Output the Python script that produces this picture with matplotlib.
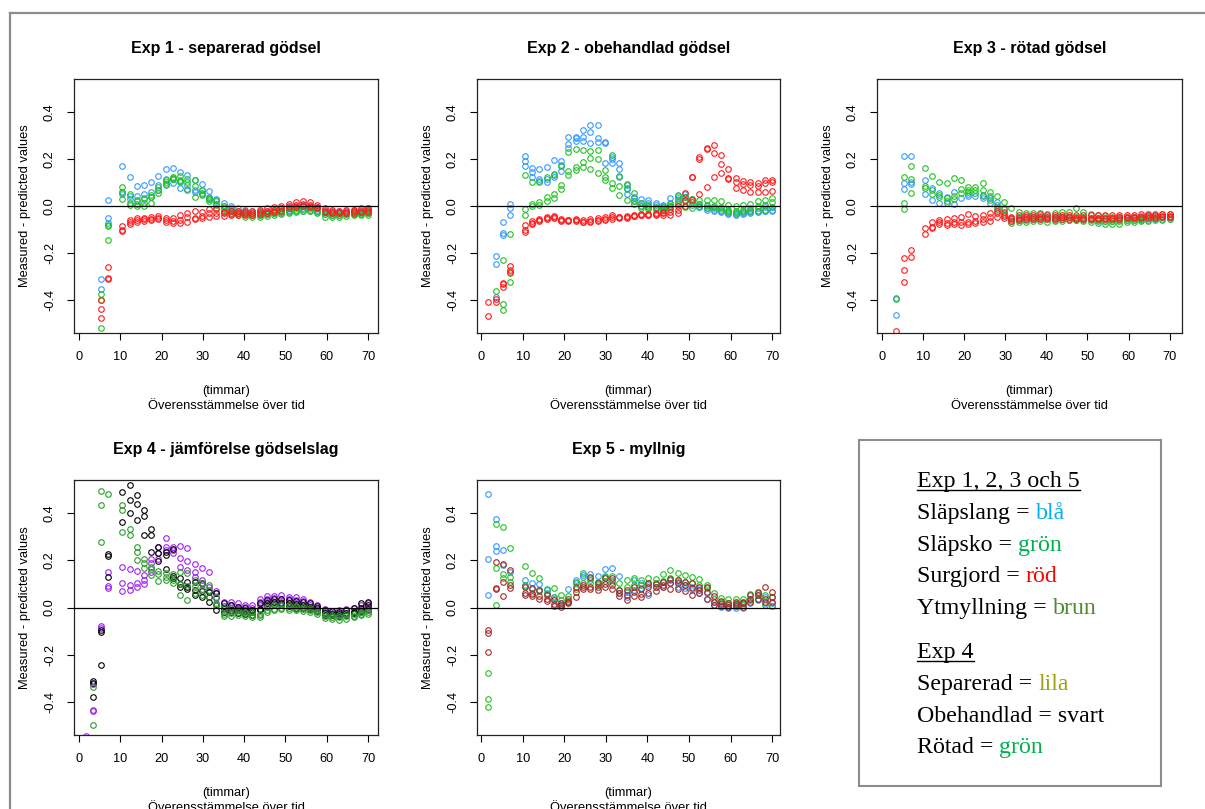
import numpy as np
import matplotlib
matplotlib.use("Agg")
import matplotlib.pyplot as plt
from matplotlib.lines import Line2D
from matplotlib.patches import Rectangle

plt.rcParams['font.family'] = ['Liberation Sans', 'DejaVu Sans']

nan = np.nan

# time points (hours)
timmar = [1.75, 3.5, 5.25, 7.0, 10.5, 12.25, 14.0, 15.75, 17.5, 19.25,
          21.0, 22.75, 24.5, 26.25, 28.0, 29.75, 31.5, 33.25, 35.0, 36.75,
          38.5, 40.25, 42.0, 43.75, 45.5, 47.25, 49.0, 50.75, 52.5, 54.25,
          56.0, 57.75, 59.5, 61.25, 63.0, 64.75, 66.5, 68.25, 70.0]

# ---- Exp 1 ----
e1_bla = [
    [nan, nan, -0.31, 0.026, 0.169, 0.122, 0.085, 0.091, 0.102, 0.129,
     0.159, 0.163, 0.146, 0.132, 0.11, 0.092, 0.065, 0.03, 0.014, 0.0,
     -0.01, -0.015, -0.02, -0.02, -0.02, -0.015, -0.01, -0.005, 0.0, 0.005,
     0.0, -0.005, -0.015, -0.02, -0.02, -0.02, -0.015, -0.015, -0.01],
    [nan, nan, -0.355, -0.05, 0.061, 0.043, 0.043, 0.051, 0.061, 0.089,
     0.113, 0.096, 0.075, 0.09, 0.068, 0.068, 0.04, 0.02, 0.0, -0.01,
     -0.02, -0.025, -0.03, -0.03, -0.028, -0.025, -0.02, -0.015, -0.01, -0.01,
     -0.01, -0.015, -0.025, -0.03, -0.03, -0.028, -0.025, -0.025, -0.02],
    [nan, nan, nan, -0.074, 0.05, 0.03, 0.02, 0.03, 0.04, 0.07,
     0.09, 0.12, 0.11, 0.07, 0.06, 0.05, 0.03, 0.01, -0.01, -0.02,
     -0.03, -0.035, -0.04, -0.038, -0.035, -0.03, -0.028, -0.025, -0.02, -0.02,
     -0.022, -0.025, -0.035, -0.04, -0.038, -0.035, -0.032, -0.03, -0.03],
]
e1_gron = [
    [nan, nan, -0.376, -0.08, 0.081, 0.051, 0.026, 0.033, 0.045, 0.082,
     0.11, 0.122, 0.128, 0.113, 0.109, 0.068, 0.035, 0.025, 0.0, -0.017,
     -0.02, -0.025, -0.03, -0.03, -0.025, -0.02, -0.015, -0.01, -0.005, -0.002,
     -0.005, -0.01, -0.025, -0.03, -0.03, -0.028, -0.025, -0.025, -0.022],
    [nan, nan, -0.40, -0.085, 0.06, 0.011, 0.007, 0.011, 0.037, 0.068,
     0.094, 0.113, 0.108, 0.10, 0.085, 0.055, 0.03, 0.005, -0.013, -0.02,
     -0.03, -0.035, -0.04, -0.038, -0.035, -0.03, -0.025, -0.02, -0.015, -0.012,
     -0.015, -0.02, -0.035, -0.04, -0.038, -0.035, -0.033, -0.032, -0.03],
    [nan, nan, -0.52, -0.145, 0.031, 0.004, 0.0, 0.0, 0.014, 0.057,
     0.10, 0.115, 0.10, 0.071, 0.037, 0.047, 0.023, -0.01, -0.02, -0.034,
     -0.04, -0.045, -0.048, -0.045, -0.042, -0.04, -0.035, -0.03, -0.025, -0.02,
     -0.022, -0.028, -0.045, -0.048, -0.045, -0.042, -0.04, -0.04, -0.038],
]
e1_rod = [
    [nan, nan, -0.40, -0.258, -0.085, -0.06, -0.051, -0.05, -0.045, -0.041,
     -0.05, -0.05, -0.04, -0.028, -0.02, -0.024, -0.013, -0.013, -0.024, -0.02,
     -0.02, -0.02, -0.02, -0.015, -0.01, -0.005, 0.0, 0.01, 0.015, 0.02,
     0.015, 0.005, -0.01, -0.015, -0.02, -0.015, -0.015, -0.01, -0.01],
    [nan, nan, -0.44, -0.308, -0.10, -0.07, -0.06, -0.057, -0.054, -0.05,
     -0.06, -0.065, -0.06, -0.045, -0.05, -0.043, -0.03, -0.028, -0.03, -0.028,
     -0.03, -0.03, -0.028, -0.025, -0.02, -0.015, -0.01, 0.0, 0.005, 0.01,
     0.005, -0.005, -0.02, -0.025, -0.025, -0.025, -0.02, -0.02, -0.015],
    [nan, nan, -0.477, -0.31, -0.108, -0.078, -0.067, -0.064, -0.06, -0.057,
     -0.068, -0.072, -0.074, -0.068, -0.055, -0.052, -0.045, -0.043, -0.043, -0.038,
     -0.04, -0.04, -0.038, -0.035, -0.03, -0.025, -0.02, -0.01, -0.005, 0.0,
     -0.005, -0.01, -0.025, -0.03, -0.03, -0.03, -0.03, -0.025, -0.025],
]

# ---- Exp 2 ----
e2_bla = [
    [nan, -0.213, -0.068, 0.009, 0.211, 0.16, 0.157, 0.167, 0.196, 0.19,
     0.295, 0.295, 0.323, 0.346, 0.346, 0.271, 0.21, 0.182, 0.089, 0.04,
     0.03, 0.026, 0.014, 0.004, 0.033, 0.047, 0.051, 0.03, 0.01, 0.0,
     -0.005, -0.01, -0.02, -0.025, -0.02, -0.015, -0.01, -0.005, -0.005],
    [nan, -0.247, -0.114, -0.01, 0.191, 0.145, 0.116, 0.116, 0.122, 0.175,
     0.262, 0.288, 0.295, 0.313, 0.288, 0.266, 0.199, 0.157, 0.075, 0.033,
     0.011, 0.011, 0.004, -0.006, 0.014, 0.033, 0.04, 0.015, 0.0, -0.01,
     -0.015, -0.02, -0.03, -0.035, -0.03, -0.025, -0.02, -0.02, -0.015],
    [nan, -0.386, -0.122, -0.04, 0.17, 0.125, 0.108, 0.102, 0.13, 0.15,
     0.248, 0.277, 0.277, 0.267, 0.271, 0.184, 0.182, 0.122, 0.05, 0.02,
     0.0, -0.005, -0.01, -0.015, 0.0, 0.015, 0.02, 0.005, -0.005, -0.015,
     -0.02, -0.025, -0.035, -0.04, -0.035, -0.03, -0.025, -0.022, -0.02],
]
e2_gron = [
    [nan, -0.362, -0.23, -0.12, 0.13, 0.10, 0.10, 0.125, 0.135, 0.172,
     0.231, 0.241, 0.238, 0.234, 0.238, 0.153, 0.217, 0.129, 0.094, 0.057,
     0.014, 0.004, -0.003, 0.0, 0.01, 0.043, 0.04, 0.03, 0.025, 0.025,
     0.025, 0.02, 0.005, 0.0, 0.005, 0.01, 0.02, 0.025, 0.035],
    [nan, nan, -0.418, -0.287, -0.014, 0.009, 0.017, 0.04, 0.051, 0.089,
     0.149, 0.165, 0.189, 0.206, 0.20, 0.125, 0.096, 0.087, 0.071, 0.02,
     0.0, -0.005, -0.008, -0.01, 0.0, 0.025, 0.02, 0.015, 0.01, 0.005,
     0.0, -0.005, -0.015, -0.02, -0.015, -0.01, 0.0, 0.005, 0.015],
    [nan, nan, -0.443, -0.325, -0.038, 0.0, 0.004, 0.021, 0.035, 0.071,
     0.13, 0.153, 0.165, 0.156, 0.142, 0.11, 0.078, 0.048, 0.026, 0.007,
     -0.01, -0.011, -0.012, -0.017, -0.006, 0.01, -0.005, -0.01, -0.005, -0.01,
     -0.01, -0.015, -0.025, -0.03, -0.025, -0.02, -0.02, -0.015, -0.005],
]
e2_rod = [
    [-0.407, -0.397, -0.326, -0.254, -0.082, -0.065, -0.057, -0.048, -0.043, -0.057,
     -0.06, -0.057, -0.06, -0.057, -0.052, -0.048, -0.038, -0.045, -0.048, -0.041,
     -0.038, -0.037, -0.034, -0.031, -0.014, 0.001, 0.054, 0.125, 0.21, 0.248,
     0.26, 0.217, 0.159, 0.121, 0.108, 0.104, 0.096, 0.111, 0.111],
    [-0.468, -0.407, -0.333, -0.27, -0.10, -0.071, -0.06, -0.052, -0.048, -0.06,
     -0.058, -0.06, -0.066, -0.068, -0.062, -0.054, -0.045, -0.051, -0.044, -0.038,
     -0.036, -0.034, -0.03, -0.026, -0.025, -0.017, 0.026, 0.122, 0.199, 0.244,
     0.227, 0.179, 0.118, 0.104, 0.092, 0.089, 0.085, 0.096, 0.104],
    [nan, nan, -0.343, -0.28, -0.11, -0.075, -0.063, -0.056, -0.052, -0.062,
     -0.062, -0.064, -0.07, -0.062, -0.058, -0.058, -0.057, -0.048, -0.05, -0.044,
     -0.04, -0.04, -0.037, -0.037, -0.038, -0.028, 0.0, 0.026, 0.051, 0.079,
     0.125, 0.139, 0.114, 0.078, 0.068, 0.061, 0.06, 0.061, 0.062],
]

# ---- Exp 3 ----
e3_bla = [
    [nan, -0.393, 0.213, 0.214, 0.111, 0.078, 0.057, 0.04, 0.061, 0.033,
     0.051, 0.043, 0.047, 0.033, 0.016, -0.01, -0.05, -0.045, -0.045, -0.045,
     -0.044, -0.045, -0.046, -0.045, -0.046, -0.048, -0.05, -0.05, -0.05, -0.05,
     -0.052, -0.05, -0.05, -0.05, -0.048, -0.048, -0.046, -0.046, -0.045],
    [nan, -0.465, 0.096, 0.104, 0.051, 0.026, 0.011, 0.011, 0.007, nan,
     0.043, nan, 0.033, 0.011, -0.003, -0.038, -0.064, -0.06, -0.058, -0.057,
     -0.056, -0.057, -0.058, -0.057, -0.058, -0.06, -0.06, -0.06, -0.062, -0.062,
     -0.062, -0.06, -0.06, -0.06, -0.058, -0.058, -0.056, -0.056, -0.055],
    [nan, nan, 0.071, 0.094] + [nan] * 35,
]
e3_gron = [
    [nan, -0.396, 0.122, 0.169, 0.16, 0.128, 0.104, 0.096, 0.118, 0.11,
     0.082, 0.079, 0.099, 0.061, 0.044, 0.018, -0.01, -0.025, -0.03, -0.03,
     -0.03, -0.032, -0.03, -0.025, -0.025, -0.01, -0.025, -0.035, -0.04, -0.042,
     -0.045, -0.045, -0.045, -0.045, -0.042, -0.04, -0.038, -0.036, -0.035],
    [nan, nan, 0.014, 0.113, 0.085, 0.068, 0.047, 0.033, 0.043, 0.071,
     0.068, 0.07, 0.068, 0.043, 0.004, -0.014, -0.05, -0.055, -0.055, -0.05,
     -0.05, -0.052, -0.05, -0.048, -0.045, -0.045, -0.048, -0.055, -0.06, -0.062,
     -0.065, -0.062, -0.06, -0.058, -0.055, -0.052, -0.05, -0.048, -0.046],
    [nan, nan, -0.013, 0.057, 0.078, 0.051, 0.037, 0.021, 0.03, 0.054,
     0.06, 0.054, 0.043, 0.026, -0.011, -0.034, -0.071, -0.07, -0.068, -0.065,
     -0.065, -0.066, -0.064, -0.062, -0.06, -0.06, -0.062, -0.068, -0.072, -0.075,
     -0.078, -0.075, -0.07, -0.066, -0.064, -0.062, -0.06, -0.058, -0.055],
]
e3_rod = [
    [nan, -0.532, -0.22, -0.187, -0.092, -0.07, -0.06, -0.057, -0.052, -0.045,
     -0.035, -0.043, -0.04, -0.028, -0.02, -0.024, -0.045, -0.04, -0.038, -0.037,
     -0.036, -0.037, -0.038, -0.038, -0.04, -0.04, -0.04, -0.04, -0.04, -0.04,
     -0.04, -0.04, -0.038, -0.037, -0.036, -0.035, -0.034, -0.033, -0.033],
    [nan, nan, -0.272, -0.216, -0.121, -0.088, -0.078, -0.071, -0.078, -0.081,
     -0.066, -0.062, -0.057, -0.045, -0.031, -0.043, -0.057, -0.05, -0.048, -0.047,
     -0.046, -0.046, -0.047, -0.048, -0.048, -0.05, -0.05, -0.05, -0.05, -0.05,
     -0.05, -0.048, -0.047, -0.046, -0.045, -0.044, -0.043, -0.042, -0.042],
    [nan, nan, -0.322, nan, nan, -0.092, -0.07, -0.08, -0.07, -0.07,
     -0.076, -0.074, -0.066, -0.064, -0.048, -0.052, -0.064, -0.06, -0.056, -0.055,
     -0.054, -0.054, -0.055, -0.055, -0.056, -0.056, -0.056, -0.056, -0.056, -0.056,
     -0.055, -0.054, -0.053, -0.052, -0.05, -0.05, -0.049, -0.048, -0.048],
]

# ---- Exp 4 ----
e4_separerad = [
    [-0.545, -0.323, -0.078, 0.152, 0.17, 0.162, 0.156, 0.138, 0.204, 0.255,
     0.295, 0.258, 0.261, 0.251, 0.184, 0.166, 0.152, 0.071, 0.024, 0.024,
     0.017, 0.01, 0.01, 0.038, 0.048, 0.048, 0.051, 0.045, 0.043, 0.038,
     0.024, 0.01, -0.008, -0.014, -0.011, -0.008, -0.004, 0.01, 0.02],
    [nan, -0.434, -0.085, 0.091, 0.105, 0.095, 0.102, 0.116, 0.187, 0.23,
     0.258, 0.244, 0.209, 0.199, 0.152, 0.116, 0.088, 0.06, 0.006, 0.01,
     0.003, 0.003, 0.0, 0.024, 0.038, 0.041, 0.038, 0.034, 0.031, 0.028,
     0.01, 0.0, -0.018, -0.023, -0.025, -0.023, -0.018, -0.011, 0.003],
    [nan, -0.437, nan, 0.081, 0.071, 0.074, 0.088, 0.1, 0.152, 0.204,
     0.244, 0.23, 0.17, 0.16, 0.13, 0.1, 0.07, 0.04, -0.005, 0.0,
     -0.005, -0.01, -0.01, 0.01, 0.02, 0.025, 0.025, 0.02, 0.015, 0.01,
     0.0, -0.01, -0.025, -0.03, -0.03, -0.028, -0.025, -0.02, -0.01],
]
e4_obehandlad = [
    [nan, -0.313, -0.094, 0.226, 0.489, 0.52, 0.475, 0.414, 0.332, 0.255,
     0.237, 0.248, 0.123, 0.109, 0.109, 0.102, 0.067, 0.062, 0.017, 0.01,
     0.003, -0.004, -0.011, 0.017, 0.031, 0.038, 0.038, 0.031, 0.028, 0.024,
     0.017, 0.006, -0.011, -0.014, -0.018, -0.011, -0.004, 0.017, 0.024],
    [nan, -0.319, -0.104, 0.22, 0.363, 0.454, 0.438, 0.386, 0.308, 0.23,
     0.223, 0.133, 0.1, 0.088, 0.074, 0.071, 0.045, 0.01, 0.0, -0.011,
     -0.01, -0.015, -0.02, -0.005, 0.017, 0.024, 0.021, 0.017, 0.013, 0.01,
     0.003, -0.004, -0.023, -0.026, -0.028, -0.023, -0.018, -0.004, 0.01],
    [nan, -0.377, -0.243, 0.13, nan, 0.40, 0.369, 0.306, 0.234, 0.199,
     0.162, 0.123, 0.088, 0.077, 0.052, 0.043, 0.024, -0.011, -0.018, -0.018,
     -0.023, -0.028, -0.033, -0.011, 0.005, 0.01, 0.01, 0.005, 0.0, -0.003,
     -0.008, -0.015, -0.03, -0.033, -0.035, -0.03, -0.025, -0.015, -0.005],
]
e4_rotad = [
    [nan, -0.335, 0.494, 0.482, 0.435, 0.332, 0.255, 0.204, 0.173, 0.156,
     0.148, 0.14, 0.152, 0.145, 0.116, 0.102, 0.095, 0.045, -0.004, -0.004,
     -0.011, -0.018, -0.018, -0.026, 0.003, 0.01, 0.01, 0.01, 0.006, 0.003,
     -0.004, -0.014, -0.026, -0.033, -0.033, -0.028, -0.026, -0.018, -0.011],
    [nan, -0.498, 0.435, nan, 0.414, 0.306, 0.233, 0.187, 0.163, 0.142,
     0.13, 0.116, 0.1, 0.09, 0.091, 0.078, 0.074, 0.017, -0.026, -0.023,
     -0.02, -0.025, -0.03, -0.03, -0.01, -0.005, -0.002, -0.004, -0.005, -0.008,
     -0.01, -0.02, -0.035, -0.04, -0.04, -0.038, -0.034, -0.026, -0.02],
    [nan, nan, 0.279, nan, 0.32, nan, 0.201, 0.166, 0.138, 0.112,
     0.116, 0.105, 0.052, 0.031, 0.06, 0.052, 0.045, 0.01, -0.037, -0.037,
     -0.033, -0.037, -0.04, -0.04, -0.018, -0.011, -0.008, -0.011, -0.011, -0.014,
     -0.018, -0.028, -0.043, -0.047, -0.051, -0.047, -0.04, -0.033, -0.026],
]

# ---- Exp 5 ----
e5_bla = [
    [0.482, 0.376, 0.244, 0.152, 0.116, 0.105, 0.099, 0.074, 0.045, 0.017,
     0.078, 0.116, 0.138, 0.14, 0.133, 0.162, 0.169, 0.133, 0.067, 0.116,
     0.102, 0.095, 0.102, 0.109, 0.116, 0.109, 0.095, 0.088, 0.081, 0.06,
     0.024, 0.017, 0.003, 0.01, 0.01, 0.038, 0.052, 0.045, 0.017],
    [0.206, 0.261, 0.18, nan, 0.09, 0.08, 0.074, 0.06, 0.035, 0.01,
     0.024, 0.102, 0.128, 0.116, 0.102, 0.128, 0.116, 0.06, 0.045, 0.074,
     0.081, 0.052, 0.088, 0.088, 0.102, 0.088, 0.081, 0.074, 0.06, 0.038,
     0.01, 0.003, 0.0, 0.0, 0.0, 0.017, 0.031, 0.017, 0.006],
    [0.055, 0.24] + [nan] * 37,
]
e5_gron = [
    [-0.277, 0.355, 0.339, 0.254, 0.177, 0.145, 0.123, 0.077, 0.081, 0.052,
     0.048, 0.108, 0.145, 0.123, 0.109, 0.133, 0.133, 0.102, 0.116, 0.123,
     0.116, 0.126, 0.122, 0.142, 0.159, 0.145, 0.138, 0.13, 0.119, 0.095,
     0.06, 0.041, 0.038, 0.038, 0.038, 0.057, 0.062, 0.052, 0.045],
    [-0.387, 0.166, 0.14, 0.128, 0.095, 0.062, 0.071, 0.057, 0.045, 0.031,
     0.028, 0.077, 0.102, 0.102, 0.095, 0.113, 0.108, 0.074, 0.088, 0.095,
     0.095, 0.102, 0.102, 0.113, 0.123, 0.116, 0.109, 0.102, 0.095, 0.081,
     0.038, 0.024, 0.017, 0.02, 0.017, 0.031, 0.038, 0.01, 0.006],
    [-0.42, 0.01, 0.123, 0.109] + [nan] * 35,
]
e5_brun = [
    [-0.096, 0.194, 0.184, 0.159, 0.088, 0.081, 0.074, 0.052, 0.031, 0.02,
     0.038, 0.088, 0.095, 0.128, 0.102, 0.123, 0.123, 0.074, 0.074, 0.085,
     0.077, 0.102, 0.099, 0.109, 0.119, 0.116, 0.109, 0.102, 0.088, 0.085,
     0.048, 0.028, 0.02, 0.024, 0.024, 0.052, 0.067, 0.085, 0.067],
    [-0.108, 0.081, 0.108, 0.095, 0.06, 0.057, 0.048, 0.038, 0.014, 0.003,
     0.024, 0.067, 0.085, 0.085, 0.088, 0.099, 0.095, 0.06, 0.052, 0.067,
     0.057, 0.088, 0.085, 0.095, 0.102, 0.102, 0.095, 0.081, 0.074, 0.067,
     0.024, 0.014, 0.01, 0.014, 0.017, 0.038, 0.052, 0.038, 0.045],
    [-0.189, 0.077, 0.05, 0.081, 0.052, 0.048, 0.038, 0.028, 0.006, 0.01,
     0.017, 0.045, 0.079, 0.078, 0.074, 0.088, 0.078, 0.048, 0.031, 0.048,
     0.043, 0.06, 0.071, 0.085, 0.08, 0.08, 0.071, 0.052, 0.06, 0.038,
     0.01, 0.006, 0.003, 0.006, 0.003, 0.024, 0.034, 0.024, 0.024],
]

titles = ["Exp 1 - separerad gödsel", "Exp 2 - obehandlad gödsel", "Exp 3 - rötad gödsel",
          "Exp 4 - jämförelse gödselslag", "Exp 5 - myllnig"]
xticks = [0, 10, 20, 30, 40, 50, 60, 70]
yticks = [-0.4, -0.2, 0.0, 0.2, 0.4]
ytick_labels = ["-0.4", "-0.2", "0.0", "0.2", "0.4"]

BLUE = "#3399ff"
GREEN = "#22c222"
RED = "#ff1a1a"

W, H = 1205, 809
fig = plt.figure(figsize=(W / 100, H / 100), dpi=100)


def add_panel(px_left, px_top, px_right, px_bottom, title, series, xlim):
    rect = [px_left / W, 1 - px_bottom / H, (px_right - px_left) / W, (px_bottom - px_top) / H]
    ax = fig.add_axes(rect)
    for reps, col in series:
        for rep in reps:
            ax.plot(timmar, rep, ls='none', marker='o', ms=4.0, mfc='none',
                    mec=col, mew=0.8)
    ax.axhline(0, color='black', lw=0.9, zorder=3)
    ax.set_xlim(*xlim)
    ax.set_ylim(-0.54, 0.54)
    ax.set_xticks(xticks)
    ax.set_yticks(yticks)
    ax.set_yticklabels(ytick_labels, rotation=90, va='center')
    ax.tick_params(direction='out', length=5, width=0.8, labelsize=9.2, pad=8)
    for s in ax.spines.values():
        s.set_linewidth(0.9)
        s.set_color('#222222')
    ax.set_xlabel("(timmar)\nÖverensstämmelse över tid", fontsize=9.3, labelpad=16,
                  linespacing=1.3)
    ax.set_ylabel("Measured - predicted values", fontsize=9.3, labelpad=9)
    ax.set_title(title, fontweight='bold', fontsize=11.5, pad=19)
    return ax


add_panel(74, 79, 378, 333, titles[0],
          [(e1_bla, BLUE), (e1_gron, GREEN), (e1_rod, RED)], (-1.2, 72.4))
add_panel(477, 79, 780, 333, titles[1],
          [(e2_bla, BLUE), (e2_gron, GREEN), (e2_rod, RED)], (-1.0, 71.9))
add_panel(877, 79, 1182, 333, titles[2],
          [(e3_bla, BLUE), (e3_gron, GREEN), (e3_rod, RED)], (-1.2, 73.0))
add_panel(74, 480, 378, 735, titles[3],
          [(e4_separerad, "#a020f0"), (e4_obehandlad, "black"), (e4_rotad, "#2a9d2a")],
          (-1.2, 72.4))
add_panel(477, 480, 780, 735, titles[4],
          [(e5_bla, BLUE), (e5_gron, GREEN), (e5_brun, "#a52a2a")], (-1.0, 71.9))

# outer frame (gray)
fig.add_artist(Line2D([10 / W, 1.0], [1 - 13 / H, 1 - 13 / H], transform=fig.transFigure,
                      color='#8c8c8c', lw=1.6))
fig.add_artist(Line2D([10 / W, 10 / W], [1 - 13 / H, 0.0], transform=fig.transFigure,
                      color='#8c8c8c', lw=1.6))

# legend box
fig.add_artist(Rectangle((859 / W, 1 - 786 / H), 302 / W, 346 / H, transform=fig.transFigure,
                         fill=False, edgecolor='#8c8c8c', lw=1.5))

legend_rows = [
    ("Exp 1, 2, 3 och 5", None, None),
    ("Släpslang =", "blå", "#00b0f0"),
    ("Släpsko =", "grön", "#00b050"),
    ("Surgjord =", "röd", "#ff0000"),
    ("Ytmyllning =", "brun", "#4e8a2b"),
    ("Exp 4", None, None),
    ("Separerad =", "lila", "#a0a010"),
    ("Obehandlad = svart", None, None),
    ("Rötad =", "grön", "#00b050"),
]
legend_baselines = [487, 519, 551, 582, 614, 658, 690, 722, 753]
headers = {0, 5}

renderer = fig.canvas.get_renderer()
lx = 917
lfont = dict(family=['Liberation Serif', 'DejaVu Serif'], size=17.2)
probe1 = fig.text(0, 0, "a a", **lfont)
probe2 = fig.text(0, 0, "aa", **lfont)
space_w = probe1.get_window_extent(renderer).width - probe2.get_window_extent(renderer).width
probe1.remove()
probe2.remove()

for i, (row, word, col) in enumerate(legend_rows):
    yb = legend_baselines[i]
    t = fig.text(lx / W, 1 - yb / H, row, va='baseline', ha='left', color='black', **lfont)
    w = t.get_window_extent(renderer).width
    if word is not None:
        fig.text((lx + w + space_w) / W, 1 - yb / H, word, va='baseline', ha='left',
                 color=col, **lfont)
    if i in headers:
        fig.add_artist(Line2D([lx / W, (lx + w) / W], [1 - (yb + 3) / H] * 2,
                              transform=fig.transFigure, color='black', lw=1.0))

fig.savefig("out.png", dpi=100)
